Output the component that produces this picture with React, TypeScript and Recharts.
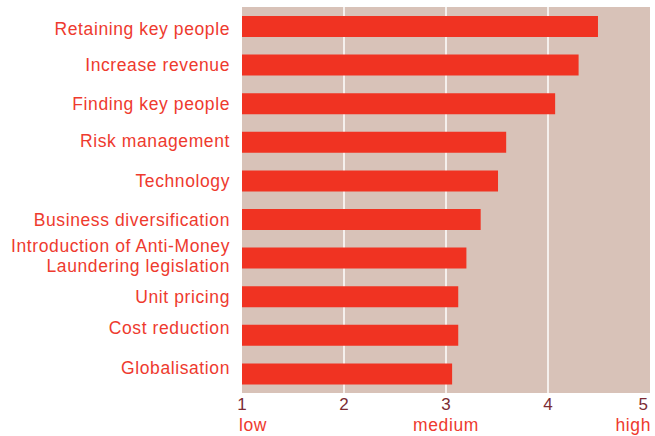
import React from 'react';
import { BarChart, Bar, XAxis, YAxis, CartesianGrid } from 'recharts';

const categories = [
  'Retaining key people',
  'Increase revenue',
  'Finding key people',
  'Risk management',
  'Technology',
  'Business diversification',
  'Introduction of Anti-Money Laundering legislation',
  'Unit pricing',
  'Cost reduction',
  'Globalisation',
];
const scores = [4.49, 4.3, 4.07, 3.59, 3.51, 3.34, 3.2, 3.12, 3.12, 3.06];
const xTicks = [1, 2, 3, 4, 5];
const levelLabels: Record<number, string> = { 1: 'low', 3: 'medium', 5: 'high' };

const data = categories.map((name, i) => ({ name, score: scores[i] }));

const FONT = '"Liberation Sans", Arial, Helvetica, sans-serif';
const LABEL_RED = '#ee3a2e';
const TICK_DARK = '#7b2b33';
const LABEL_SIZE = 17.5;
const LABEL_SPACING = 0.6;

const labelShift: Record<string, number> = {
  'Retaining key people': 2,
  'Risk management': -1,
  'Cost reduction': -7,
  'Globalisation': -6,
};

const splitLines: Record<string, string[]> = {
  'Introduction of Anti-Money Laundering legislation': ['Introduction of Anti-Money', 'Laundering legislation'],
};

const YTick = (props: any) => {
  const { x, y, payload } = props;
  const v: string = payload.value;
  const lines = splitLines[v] || [v];
  const shift = labelShift[v] || 0;
  const common = {
    textAnchor: 'end' as const,
    fill: LABEL_RED,
    fontSize: LABEL_SIZE,
    fontFamily: FONT,
    letterSpacing: LABEL_SPACING,
  };
  if (lines.length === 2) {
    return (
      <text x={x} y={y} {...common}>
        <tspan x={x} dy={-5.5}>{lines[0]}</tspan>
        <tspan x={x} dy={19.5}>{lines[1]}</tspan>
      </text>
    );
  }
  return (
    <text x={x} y={y + shift} dy={6.3} {...common}>
      {v}
    </text>
  );
};

const XTick = (props: any) => {
  const { x, y, payload } = props;
  const v: number = payload.value;
  const numAnchor = v === 5 ? 'end' : 'middle';
  const numX = v === 5 ? x - 2 : x;
  const lvl = levelLabels[v];
  const lvlAnchor = v === 1 ? 'start' : v === 5 ? 'end' : 'middle';
  const lvlX = v === 1 ? x - 3 : v === 5 ? x + 1 : x;
  return (
    <g>
      <text x={numX} y={y + 9} textAnchor={numAnchor} fill={TICK_DARK} fontSize={17} fontFamily={FONT}>
        {v}
      </text>
      {lvl && (
        <text
          x={lvlX}
          y={y + 30}
          textAnchor={lvlAnchor}
          fill={LABEL_RED}
          fontSize={LABEL_SIZE}
          fontFamily={FONT}
          letterSpacing={LABEL_SPACING}
        >
          {lvl}
        </text>
      )}
    </g>
  );
};

export default function App() {
  return (
    <div style={{ position: 'fixed', left: 0, top: 0, width: 655, height: 436, background: '#fff' }}>
      <BarChart
        width={655}
        height={436}
        data={data}
        layout="vertical"
        margin={{ top: 7, right: 5, bottom: 0, left: 0 }}
      >
        <CartesianGrid
          horizontal={false}
          vertical={true}
          verticalValues={[2, 3, 4]}
          stroke="#ffffff"
          strokeWidth={1.5}
          fill="#d8c2b8"
          fillOpacity={1}
        />
        <XAxis
          type="number"
          dataKey="score"
          domain={[1, 5]}
          ticks={xTicks}
          allowDataOverflow
          axisLine={false}
          tickLine={false}
          height={43}
          tick={<XTick />}
          interval={0}
        />
        <YAxis
          type="category"
          dataKey="name"
          width={242}
          axisLine={false}
          tickLine={false}
          tickMargin={6}
          interval={0}
          tick={<YTick />}
        />
        <Bar dataKey="score" fill="#f03322" barSize={21} isAnimationActive={false} />
      </BarChart>
    </div>
  );
}
